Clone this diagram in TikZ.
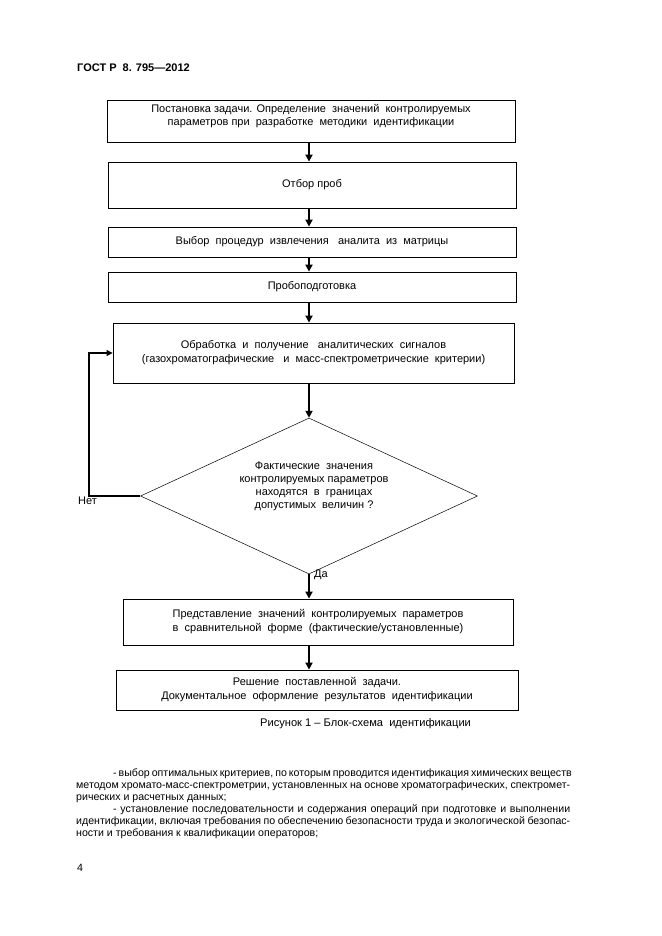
\documentclass[tikz,border=0pt]{standalone}
\usepackage{fontspec}
\setmainfont{Liberation Sans}
\usetikzlibrary{arrows.meta,shapes.geometric}
\begin{document}
\begin{tikzpicture}[x=1pt,y=-1pt,
  box/.style={draw,line width=0.8pt,inner sep=0pt,align=center,font=\fontsize{11}{14}\selectfont},
  arr/.style={line width=1.8pt,-{Triangle[width=7pt,length=7pt]}},
  looparr/.style={line width=1.1pt,-{Triangle[width=6pt,length=6pt]}},
  dec/.style={draw,line width=0.5pt,shape=diamond,aspect=2.16,minimum width=337pt,minimum height=156pt,inner sep=0pt},
  lbl/.style={font=\fontsize{11}{13}\selectfont,inner sep=0pt},
  body/.style={font=\fontsize{10.6}{12}\selectfont,inner sep=0pt,anchor=base west}]
\useasboundingbox[fill=white] (0,0) rectangle (661,936);

\node[font=\bfseries\fontsize{11}{12}\selectfont,inner sep=0pt,anchor=base west] (hdr) at (77,72) {ГОСТ Р~ 8. 795—2012};

\coordinate (ax) at (309,0);

\node[box,minimum width=408pt,minimum height=42pt] (b1) at (311,121)
  {\raisebox{5pt}[\height][\depth]{\begin{tabular}{@{}c@{}}Постановка задачи. Определение~ значений~ контролируемых\\[-1.5pt]параметров при~ разработке~ методики~ идентификации\end{tabular}}};
\node[box,minimum width=408pt,minimum height=46pt] (b2) at (312,185) {Отбор проб};
\node[box,minimum width=408pt,minimum height=30pt] (b3) at (312,242) {Выбор~ процедур~ извлечения~~ аналита~ из~ матрицы};
\node[box,minimum width=408pt,minimum height=30pt] (b4) at (312,287) {Пробоподготовка};
\node[box,minimum width=401pt,minimum height=60pt] (b5) at (313.5,353)
  {Обработка~ и~ получение~~ аналитических~ сигналов\\(газохроматографические~~ и~ масс-спектрометрические~ критерии)};

\node[dec] (d) at (309,496) {};
\node[lbl,align=center] (dt) at (314,486)
  {Фактические~ значения\\контролируемых параметров\\находятся~ в~ границах\\допустимых~ величин~?};

\node[box,minimum width=390pt,minimum height=46pt] (b6) at (318,622)
  {Представление~ значений~ контролируемых~ параметров\\в~ сравнительной~ форме~ (фактические/установленные)};
\node[box,minimum width=402pt,minimum height=40pt] (b7) at (317,690)
  {Решение~ поставленной~ задачи.\\Документальное~ оформление~ результатов~ идентификации};

\node[font=\fontsize{11.1}{13}\selectfont,inner sep=0pt,anchor=base west] (cap) at (260,726) {Рисунок 1 – Блок-схема~ идентификации};

\draw[arr] (b1.south -| ax) -- (b2.north -| ax);
\draw[arr] (b2.south -| ax) -- (b3.north -| ax);
\draw[arr] (b3.south -| ax) -- (b4.north -| ax);
\draw[arr] (b4.south -| ax) -- (b5.north -| ax);
\draw[arr] (b5.south -| ax) -- (d.north);
\draw[arr] (d.south) -- (b6.north -| d.south);
\draw[arr] (b6.south -| ax) -- (b7.north -| ax);

\coordinate (lp) at (89,0);
\draw[looparr] (d.west) -- (d.west -| lp) -- (b5.west -| lp) -- (b5.west);

\node[lbl,anchor=north west] (no) at (78,497) {Нет};
\node[lbl,anchor=west] (yes) at (314,575) {Да};

\node[body] (p1) at (113,776) {\makebox[457pt][s]{- выбор оптимальных критериев, по которым проводится идентификация химических веществ}};
\node[body] (p2) at (76,788) {\makebox[494pt][s]{методом хромато-масс-спектрометрии, установленных на основе хроматографических, спектромет-}};
\node[body] (p3) at (76,800) {рических и расчетных данных;};
\node[body] (p4) at (113,812) {\makebox[457pt][s]{- установление последовательности и содержания операций при подготовке и выполнении}};
\node[body] (p5) at (76,824) {\makebox[494pt][s]{идентификации, включая требования по обеспечению безопасности труда и экологической безопас-}};
\node[body] (p6) at (76,836) {ности и требования к квалификации операторов;};

\node[body] (pg) at (77,871) {4};
\end{tikzpicture}
\end{document}
